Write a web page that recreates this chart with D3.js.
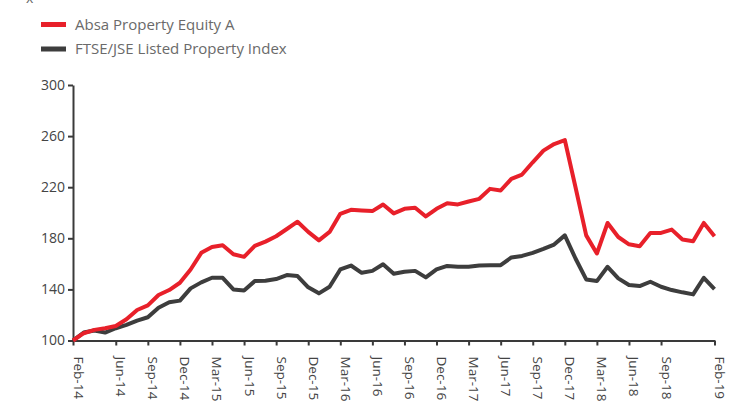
<!DOCTYPE html>
<html>
<head>
<meta charset="utf-8">
<script src="https://cdn.jsdelivr.net/npm/d3@7"></script>
<style>
  html, body { margin: 0; padding: 0; background: #fff; }
  svg { display: block; font-family: "Open Sans", "Noto Sans", sans-serif; }
</style>
</head>
<body>
<div id="chart"></div>
<script>
// ---- Data (monthly, Feb-14 .. Feb-19, rebased to 100) ----
const months = d3.range(61); // month index from Feb-14
const absaValues = [
  100, 105.7, 108.3, 109.6, 111.4, 116.6, 123.9, 127.5, 135.6, 139.5,
  145.2, 155.6, 168.6, 173.2, 174.5, 167.5, 165.5, 174.0, 177.4, 181.6,
  187.3, 193.0, 185.0, 178.4, 185.0, 199.2, 202.3, 201.8, 201.3, 206.5,
  199.5, 203.1, 203.9, 197.1, 203.1, 207.5, 206.5, 208.8, 210.9, 218.7,
  217.4, 226.5, 229.9, 239.5, 248.6, 253.8, 256.9, 220.0, 182.3, 168.1,
  192.0, 181.0, 175.3, 173.8, 184.2, 184.2, 186.8, 179.0, 177.7, 192.0,
  181.6
];
const ftseValues = [
  100, 106.2, 107.8, 106.2, 109.6, 112.2, 115.6, 118.2, 125.7, 129.9,
  131.2, 140.8, 145.5, 149.1, 149.1, 140.0, 139.2, 146.5, 146.8, 148.1,
  151.2, 150.4, 141.6, 136.9, 142.1, 155.6, 158.7, 153.0, 154.5, 159.7,
  152.2, 153.8, 154.5, 149.4, 155.6, 158.4, 157.7, 157.7, 158.7, 159.0,
  159.0, 165.0, 166.2, 168.6, 171.7, 175.1, 182.3, 164.2, 147.8, 146.5,
  157.7, 148.6, 143.4, 142.6, 146.0, 142.1, 139.5, 137.7, 136.1, 149.1,
  140.3
];
const seriesNames = ["Absa Property Equity A", "FTSE/JSE Listed Property Index"];
const xTickMonths = [0, 4, 7, 10, 13, 16, 19, 22, 25, 28, 31, 34, 37, 40, 43, 46, 49, 52, 55, 60];
const xTickLabels = ["Feb-14", "Jun-14", "Sep-14", "Dec-14", "Mar-15", "Jun-15", "Sep-15", "Dec-15",
  "Mar-16", "Jun-16", "Sep-16", "Dec-16", "Mar-17", "Jun-17", "Sep-17", "Dec-17",
  "Mar-18", "Jun-18", "Sep-18", "Feb-19"];
const yTicks = [100, 140, 180, 220, 260, 300];

// ---- Layout ----
const W = 739, H = 401;
const colors = ["#e8202a", "#3d3d3d"];
const axisColor = "#3a3a3a";

const svg = d3.select("#chart").append("svg")
  .attr("width", W).attr("height", H);

const x = d3.scaleLinear().domain([0, 60]).range([73, 714.5]);
const y = d3.scaleLinear().domain([100, 300]).range([340.5, 85]);

// partial cut-off glyph at the very top
svg.append("text").attr("x", 26).attr("y", 3)
  .attr("font-size", 14).attr("fill", "#666").text("x");

// Legend
const legend = svg.append("g");
seriesNames.forEach((name, i) => {
  const g = legend.append("g").attr("transform", `translate(0, ${i * 24.5})`);
  g.append("rect").attr("x", 41).attr("y", 22).attr("width", 25).attr("height", 5)
    .attr("fill", colors[i]);
  g.append("text").attr("x", 75).attr("y", 29.5)
    .attr("font-size", 15).attr("fill", "#6a6a6a").text(name);
});

// Y axis
const yAxis = d3.axisLeft(y).tickValues(yTicks).tickSize(5).tickSizeOuter(0).tickPadding(3);
const gy = svg.append("g").attr("transform", `translate(${x(0)},0)`).call(yAxis);
gy.select(".domain").attr("stroke", axisColor).attr("stroke-width", 2);
gy.selectAll(".tick line").attr("stroke", axisColor).attr("stroke-width", 2);
gy.selectAll(".tick text").attr("font-size", 14).attr("fill", "#444")
  .attr("font-family", "Open Sans, sans-serif");

// X axis
const xAxis = d3.axisBottom(x).tickValues(xTickMonths)
  .tickFormat((d, i) => xTickLabels[i]).tickSize(5).tickSizeOuter(0);
const gx = svg.append("g").attr("transform", `translate(0,${y(100)})`).call(xAxis);
gx.select(".domain").attr("stroke", axisColor).attr("stroke-width", 2);
gx.selectAll(".tick line").attr("stroke", axisColor).attr("stroke-width", 2);
gx.selectAll(".tick text")
  .attr("font-size", 13.5).attr("fill", "#444")
  .attr("font-family", "Open Sans, sans-serif")
  .attr("text-anchor", "start")
  .attr("dy", null)
  .attr("y", 0).attr("x", 0)
  .attr("transform", "translate(0,16) rotate(90)");

// Lines
const line = d3.line().x((d, i) => x(months[i])).y(d => y(d));
[absaValues, ftseValues].reverse().forEach((vals, k) => {
  const idx = 1 - k;
  svg.append("path").datum(vals)
    .attr("fill", "none")
    .attr("stroke", colors[idx])
    .attr("stroke-width", 4)
    .attr("stroke-linejoin", "round")
    .attr("d", line);
});
</script>
</body>
</html>
